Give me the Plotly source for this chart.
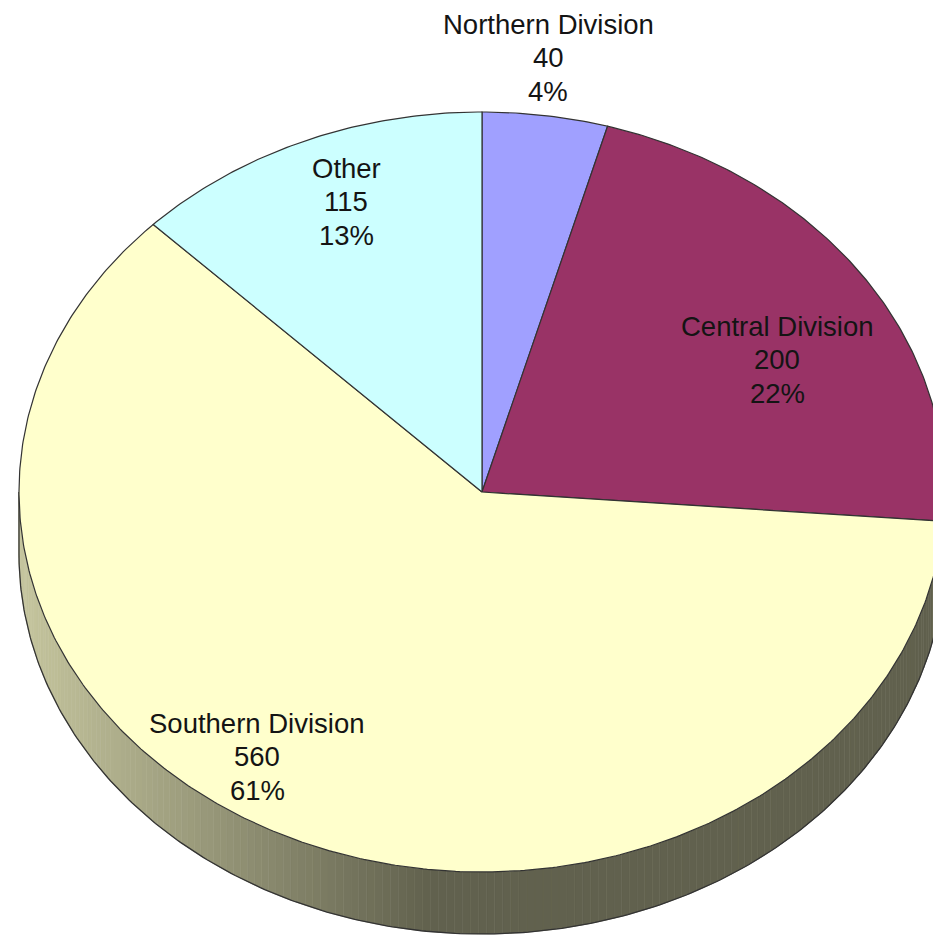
import numpy as np
import plotly.graph_objects as go

# ---- data ----
labels = ["Northern Division", "Central Division", "Southern Division", "Other"]
values = [40, 200, 560, 115]

# ---- style ----
colors = [(160, 160, 255), (153, 51, 102), (255, 255, 204), (204, 255, 255)]
label_pos = [(548, 24), (777, 326), (257, 723), (346, 168)]
line_gap = 33.5
CX, CY, A, B, DEPTH = 482, 492, 463, 380, 62
EDGE = "#333333"
FONT = "Liberation Sans, Arial, sans-serif"
OFF = 8  # page body margin compensation
W, H = 941, 938

total = sum(values)
bounds = np.concatenate([[0], np.cumsum(values)]) / total * 360.0


def pt(theta_deg, dy=0.0):
    t = np.radians(theta_deg)
    return CX + A * np.sin(t), CY - B * np.cos(t) + dy


def shade(x):
    return 0.78 - 0.40 * np.clip((x - 15) / (430 - 15), 0, 1)


fig = go.Figure()
shapes = []

# side (visible front half: 90..270 degrees)
step = 1.0
for i in range(len(values)):
    s0, s1 = max(bounds[i], 90), min(bounds[i + 1], 270)
    if s1 <= s0:
        continue
    angs = np.arange(s0, s1, step)
    angs = np.append(angs, s1)
    for a0, a1 in zip(angs[:-1], angs[1:]):
        x0, y0 = pt(a0)
        x1, y1 = pt(a1)
        f = shade((x0 + x1) / 2)
        r, g, b = [int(round(c * f)) for c in colors[i]]
        col = f"rgb({r},{g},{b})"
        path = (f"M {x0:.2f},{y0:.2f} L {x1:.2f},{y1:.2f} "
                f"L {x1:.2f},{y1 + DEPTH:.2f} L {x0:.2f},{y0 + DEPTH:.2f} Z")
        shapes.append(dict(type="path", path=path, xref="x", yref="y",
                           fillcolor=col, line=dict(color=col, width=0.6),
                           layer="below"))

# side outline (bottom edge and left silhouette)
th = np.linspace(90, 270, 300)
bx, by = pt(th, DEPTH)
fig.add_trace(go.Scatter(x=bx, y=by, mode="lines",
                         line=dict(color=EDGE, width=1.3), hoverinfo="skip",
                         showlegend=False))
lx, ly = pt(270)
fig.add_trace(go.Scatter(x=[lx, lx], y=[ly, ly + DEPTH], mode="lines",
                         line=dict(color=EDGE, width=1.3), hoverinfo="skip",
                         showlegend=False))

# top face wedges
for i in range(len(values)):
    th = np.linspace(bounds[i], bounds[i + 1], max(int((bounds[i + 1] - bounds[i]) * 2), 4))
    xs, ys = pt(th)
    xs = np.concatenate([[CX], xs, [CX]])
    ys = np.concatenate([[CY], ys, [CY]])
    r, g, b = colors[i]
    fig.add_trace(go.Scatter(x=xs, y=ys, mode="lines", fill="toself",
                             fillcolor=f"rgb({r},{g},{b})",
                             line=dict(color=EDGE, width=1.2),
                             hoverinfo="skip", showlegend=False))

# labels
annotations = []
for i, name in enumerate(labels):
    pct = f"{round(values[i] / total * 100)}%"
    lines = [name, str(values[i]), pct]
    x0, y0 = label_pos[i]
    for k, txt in enumerate(lines):
        annotations.append(dict(x=x0, y=y0 + k * line_gap, xref="x", yref="y",
                                text=txt, showarrow=False, xanchor="center",
                                yanchor="middle",
                                font=dict(family=FONT, size=27.5, color="#141414")))

fig.update_layout(
    width=W - OFF, height=H - OFF,
    margin=dict(l=0, r=0, t=0, b=0),
    paper_bgcolor="white", plot_bgcolor="white",
    xaxis=dict(range=[OFF, W], visible=False, fixedrange=True),
    yaxis=dict(range=[H, OFF], visible=False, fixedrange=True),
    shapes=shapes, annotations=annotations,
    showlegend=False,
)

fig.write_html("out.html")
